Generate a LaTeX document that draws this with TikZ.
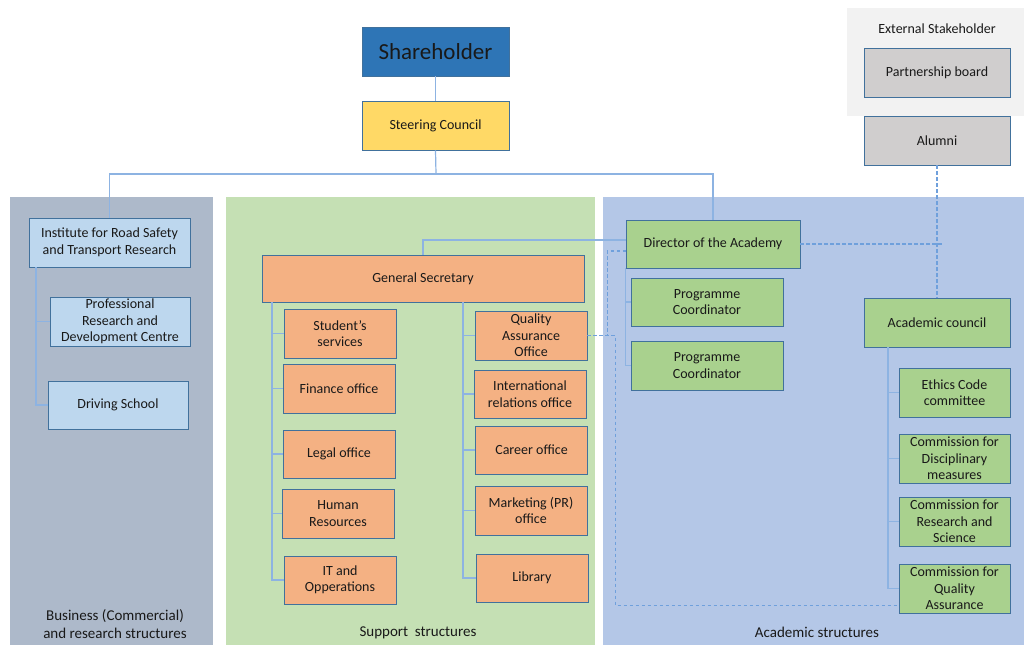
\documentclass[tikz,border=0pt]{standalone}
\usepackage{fontspec}
\setmainfont{Carlito}
\usetikzlibrary{positioning, calc}
\definecolor{OrgBorder}{HTML}{41719C}
\definecolor{OrgBlue}{HTML}{2E75B6}
\definecolor{OrgYellow}{HTML}{FFD966}
\definecolor{OrgSky}{HTML}{BDD7EE}
\definecolor{OrgOrange}{HTML}{F4B183}
\definecolor{OrgGreen}{HTML}{A9D18E}
\definecolor{OrgGray}{HTML}{D0CECE}
\definecolor{PanelBiz}{HTML}{ADB9CA}
\definecolor{PanelSupport}{HTML}{C5E0B4}
\definecolor{PanelAcad}{HTML}{B4C7E7}
\definecolor{PanelExt}{HTML}{F2F2F2}
\definecolor{LinkBlue}{HTML}{8DB3E2}
\definecolor{DashBlue}{HTML}{6FA0DC}
\tikzset{every path/.style={line cap=butt, line join=miter}}

\begin{document}
\begin{tikzpicture}[
    x=1pt, y=-1pt,
    font=\fontsize{14}{16.5}\selectfont,
    text=black!90,
    box/.style={
        draw=OrgBorder,
        line width=0.9pt,
        align=center,
        inner sep=1pt,
        minimum height=49pt
    },
    top/.style={box, fill=OrgBlue, minimum width=147pt, font=\fontsize{23}{26}\selectfont},
    council/.style={box, fill=OrgYellow, minimum width=147pt},
    business/.style={box, fill=OrgSky, minimum width=140pt},
    support/.style={box, fill=OrgOrange, minimum width=112pt},
    academic/.style={box, fill=OrgGreen, minimum width=111pt},
    external/.style={box, fill=OrgGray, minimum width=146pt},
    panel/.style={font=\fontsize{15}{17.5}\selectfont, align=center},
    line/.style={draw=LinkBlue, line width=1.2pt},
    dashline/.style={draw=DashBlue, line width=1.2pt, dash pattern=on 3.5pt off 2.5pt}
]
\useasboundingbox (0,0) rectangle (1024,645);

\fill[PanelBiz] (10,197) rectangle (213,645);
\fill[PanelSupport] (226,197) rectangle (595,645);
\fill[PanelAcad] (603,197) rectangle (1024,645);
\fill[PanelExt] (847,8) rectangle (1024,116);

\node[panel] (bizLabel) at (115,624) {Business (Commercial)\\and research structures};
\node[panel] (supLabel) at (418,633) {Support\ \ structures};
\node[panel] (acadLabel) at (817,632) {Academic structures};
\node[panel, font=\fontsize{14}{16.5}\selectfont] (extLabel) at (937,29) {External Stakeholder};

\node[top] (share) at (435.5,51.5) {Shareholder};
\node[council] (steer) at (435.5,125.5) {Steering Council};

\node[business, minimum width=161pt] (inst) at (109.5,242.5) {Institute for Road Safety\\and Transport Research};
\node[business] (prdc) at (120,321.5) {Professional\\Research and\\Development Centre};
\node[business, minimum height=48pt] (drive) at (118,405) {Driving School};

\node[support, minimum width=322pt, minimum height=47pt] (gensec) at (423,278.5) {General Secretary};
\node[support] (stud) at (340,333.5) {Student's\\services};
\node[support] (fin) at (339,388.5) {Finance office};
\node[support, minimum height=48pt] (legal) at (339,454) {Legal office};
\node[support] (hr) at (338,513.5) {Human\\Resources};
\node[support, minimum height=48pt] (itops) at (340,580) {IT and\\Opperations};
\node[support] (qao) at (531,335.5) {Quality\\Assurance\\Office};
\node[support, minimum height=48pt] (intl) at (530,394) {International\\relations office};
\node[support, minimum height=48pt] (career) at (531.5,450) {Career office};
\node[support] (mkt) at (531,510.5) {Marketing (PR)\\office};
\node[support, minimum height=48pt] (lib) at (532,578) {Library};

\node[academic, minimum width=174pt, minimum height=48pt] (dir) at (713,244) {Director of the Academy};
\node[academic, minimum width=152pt, minimum height=48pt] (pcOne) at (707,302) {Programme\\Coordinator};
\node[academic, minimum width=152pt] (pcTwo) at (707,365.5) {Programme\\Coordinator};
\node[academic, minimum width=146pt] (acad) at (937,322.5) {Academic council};
\node[academic] (ethics) at (954.5,392.5) {Ethics Code\\committee};
\node[academic] (disc) at (954.5,458.5) {Commission for\\Disciplinary\\measures};
\node[academic] (res) at (954.5,521.5) {Commission for\\Research and\\Science};
\node[academic] (cqa) at (954.5,588.5) {Commission for\\Quality\\Assurance};

\node[external] (partner) at (937,72.5) {Partnership board};
\node[external] (alumni) at (937,140.5) {Alumni};

\draw[line] (share.south) -- (steer.north);
\coordinate (busTop) at (436,174);
\draw[line] (steer.south) -- (busTop);
\draw[line] (inst.north) |- (busTop);
\draw[line] (dir.north) |- (busTop);

\coordinate (bizTrunk) at (36,267);
\draw[line] (bizTrunk) |- (prdc.west);
\draw[line] (bizTrunk) |- (drive.west);

\coordinate (supLeft) at (272,302);
\coordinate (supRight) at (463,302);
\foreach \n in {stud, fin, legal, hr, itops}
    \draw[line] (supLeft) |- (\n.west);
\foreach \n in {qao, intl, career, mkt, lib}
    \draw[line] (supRight) |- (\n.west);
\draw[line] (gensec.north) |- ([yshift=4pt]dir.west);

\draw[line] (dir.south west) |- (pcOne.west);
\draw[line] (dir.south west) |- (pcTwo.west);

\coordinate (acadTrunk) at (888,347);
\foreach \n in {ethics, disc, res, cqa}
    \draw[line] (acadTrunk) |- (\n.west);

\draw[dashline] (alumni.south) -- (acad.north);
\draw[dashline] (dir.east) -- ++(142,0);
\draw[dashline] (qao.east) -- ++(20,0) |- ([yshift=-7pt]dir.west);
\draw[dashline] (qao.east) -- ++(28,0) |- ([yshift=8pt]cqa.south west);

\end{tikzpicture}
\end{document}
